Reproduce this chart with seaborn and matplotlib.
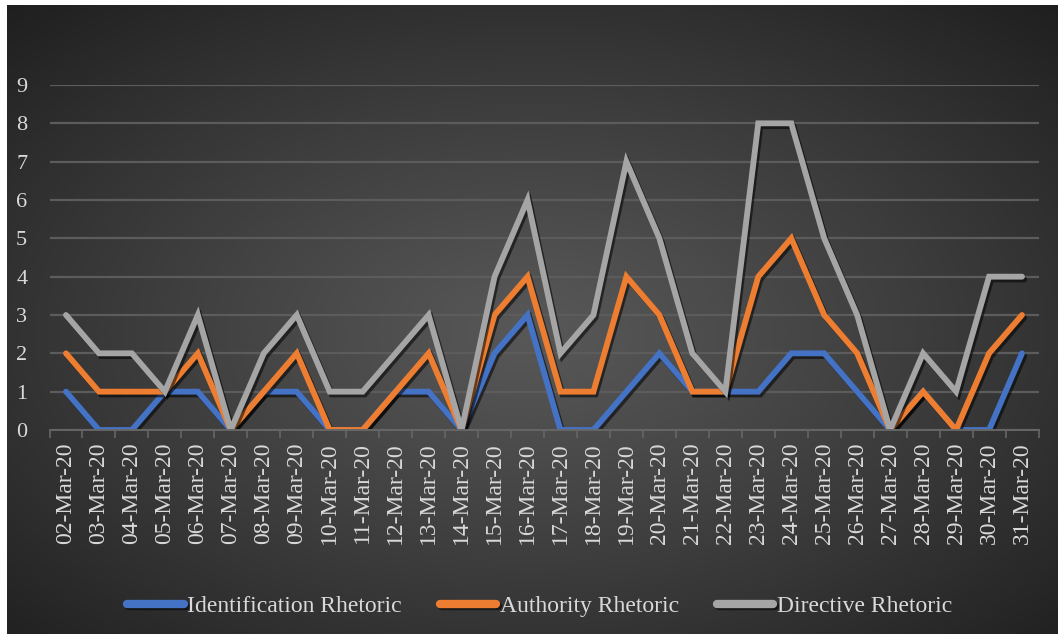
import numpy as np
import pandas as pd
import matplotlib
matplotlib.use("Agg")
import matplotlib.pyplot as plt
import matplotlib.patheffects as pe
import seaborn as sns

dates = ["02-Mar-20", "03-Mar-20", "04-Mar-20", "05-Mar-20", "06-Mar-20", "07-Mar-20",
         "08-Mar-20", "09-Mar-20", "10-Mar-20", "11-Mar-20", "12-Mar-20", "13-Mar-20",
         "14-Mar-20", "15-Mar-20", "16-Mar-20", "17-Mar-20", "18-Mar-20", "19-Mar-20",
         "20-Mar-20", "21-Mar-20", "22-Mar-20", "23-Mar-20", "24-Mar-20", "25-Mar-20",
         "26-Mar-20", "27-Mar-20", "28-Mar-20", "29-Mar-20", "30-Mar-20", "31-Mar-20"]
identification = [1, 0, 0, 1, 1, 0, 1, 1, 0, 0, 1, 1, 0, 2, 3, 0, 0, 1, 2, 1, 1, 1, 2, 2, 1, 0, 1, 0, 0, 2]
authority = [2, 1, 1, 1, 2, 0, 1, 2, 0, 0, 1, 2, 0, 3, 4, 1, 1, 4, 3, 1, 1, 4, 5, 3, 2, 0, 1, 0, 2, 3]
directive = [3, 2, 2, 1, 3, 0, 2, 3, 1, 1, 2, 3, 0, 4, 6, 2, 3, 7, 5, 2, 1, 8, 8, 5, 3, 0, 2, 1, 4, 4]
series_names = ["Identification Rhetoric", "Authority Rhetoric", "Directive Rhetoric"]
colors = ["#4472C4", "#ED7D31", "#A5A5A5"]
y_ticks = [0, 1, 2, 3, 4, 5, 6, 7, 8, 9]

rows = []
for name, vals in zip(series_names, [identification, authority, directive]):
    for i, (d, v) in enumerate(zip(dates, vals)):
        rows.append({"idx": i, "date": d, "value": v, "series": name})
df = pd.DataFrame(rows)

W, H = 1058, 634
fig = plt.figure(figsize=(W / 100, H / 100), dpi=100)
fig.patch.set_facecolor("white")

# background radial gradient
bg = fig.add_axes([7 / W, 0, 1 - 7 / W, 1 - 5 / H])
bg.set_zorder(-10)
ny, nx = 400, 660
yy, xx = np.mgrid[0:ny, 0:nx]
cx, cy = nx * 0.50, ny * 0.52
r = np.sqrt(((xx - cx) / nx) ** 2 + ((yy - cy) / ny) ** 2)
r = r / r.max()
c_center, c_edge = 0x58 / 255, 0x1f / 255
val = c_center + (c_edge - c_center) * np.clip(r, 0, 1) ** 1.1
img = np.dstack([val, val, val])
bg.imshow(img, aspect="auto", extent=[0, 1, 0, 1], interpolation="bicubic")
bg.axis("off")

plt.rcParams["font.family"] = ["Liberation Serif", "DejaVu Serif"]

ax = fig.add_axes([49.5 / W, 1 - 430 / H, (1038.5 - 49.5) / W, (430 - 85) / H])
ax.set_facecolor("none")

sns.lineplot(data=df, x="idx", y="value", hue="series", hue_order=series_names,
             palette=colors, linewidth=4.2, ax=ax, legend=True, sort=False)
for line in ax.lines:
    line.set_solid_capstyle("round")
    line.set_solid_joinstyle("miter")
    line.set_path_effects([pe.SimpleLineShadow(offset=(1.5, -2), shadow_color="black", alpha=0.55),
                           pe.Normal()])

ax.set_xlim(-0.5, len(dates) - 0.5)
ax.set_ylim(0, 9)
ax.set_yticks(y_ticks)
ax.set_yticklabels([str(t) for t in y_ticks])
ax.set_xticks(range(len(dates)))
ax.set_xticklabels(dates, rotation=90)
ax.set_xticks(np.arange(-0.5, len(dates), 1.0), minor=True)
ax.tick_params(axis="x", which="major", length=0, pad=9, labelsize=17, colors="#d9d9d9")
ax.tick_params(axis="x", which="minor", length=6, width=1.2, color="#666666")
ax.tick_params(axis="y", length=0, pad=16, labelsize=16, colors="#d9d9d9")
ax.set_xlabel("")
ax.set_ylabel("")
ax.grid(axis="y", color="#5c5c5c", linewidth=1.6)
ax.set_axisbelow(True)
for s in ["left", "right", "top"]:
    ax.spines[s].set_visible(False)
ax.spines["bottom"].set_color("#666666")
ax.spines["bottom"].set_linewidth(1.4)

handles, labels = ax.get_legend_handles_labels()
for h in handles:
    h.set_linewidth(6)
    h.set_solid_capstyle("round")
leg = ax.legend(handles, labels, loc="center", bbox_to_anchor=(0.51, 0.044),
                bbox_transform=fig.transFigure, ncol=3, frameon=False,
                fontsize=17, labelcolor="#d9d9d9", handlelength=2.4,
                handletextpad=0.15, columnspacing=1.6)

fig.savefig("out.png", dpi=100)
